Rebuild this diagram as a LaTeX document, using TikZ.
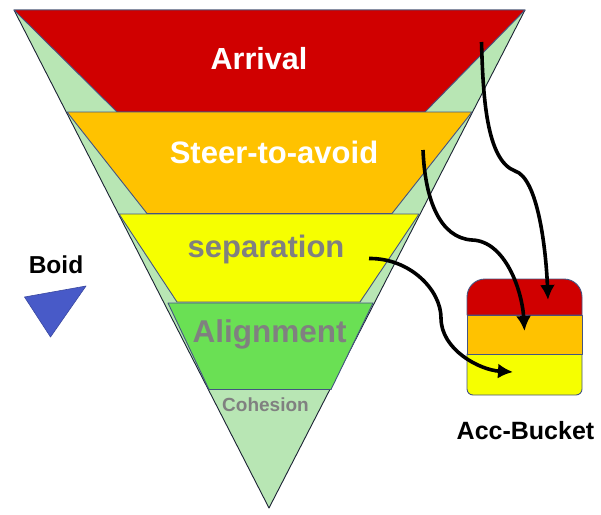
\documentclass[tikz,border=0pt]{standalone}
\usepackage{fontspec}
\setmainfont{Liberation Sans}
\usepackage{tikz}
\usetikzlibrary{arrows.meta,calc,positioning}

\definecolor{framecol}{RGB}{68,84,130}
\definecolor{paleg}{RGB}{184,230,180}
\definecolor{redl}{RGB}{208,0,0}
\definecolor{orangel}{RGB}{255,194,0}
\definecolor{yellowl}{RGB}{246,255,0}
\definecolor{greenl}{RGB}{106,224,84}
\definecolor{graytxt}{RGB}{128,128,128}
\definecolor{boidcol}{RGB}{72,90,200}

\tikzset{
    layer/.style={draw=framecol,line width=0.9pt,line join=round},
    lbl/.style={font=\bfseries\fontsize{#1}{#1}\selectfont,inner sep=0pt},
    flow/.style={-{Latex[length=15pt,width=15pt]},line width=3.6pt,black},
}

\begin{document}
\begin{tikzpicture}[x=1pt,y=-1pt]
    \useasboundingbox (0,0) rectangle (601,514);
    % funnel
    \draw[fill=paleg,draw=black!60!framecol,line width=0.9pt,line join=round]
        (14,10) -- (525,10) -- (269,508) -- cycle;
    \draw[layer,fill=redl] (14,10) -- (525,10) -- (425,112) -- (117,112) -- cycle;
    \draw[layer,fill=orangel] (67,112) -- (472,112) -- (392,213.5) -- (147,213.5) -- cycle;
    \draw[layer,fill=yellowl] (119,214) -- (419,214) -- (360,302) -- (177,302) -- cycle;
    \draw[layer,fill=greenl] (168,303) -- (373,303) -- (331,389.5) -- (209,389.5) -- cycle;
    % labels
    \node[lbl=30.5,text=white] (arrival) at (259,59) {Arrival};
    \node[lbl=31,text=white] (steer) at (274,152) {Steer-to-avoid};
    \node[lbl=31,text=graytxt] (separation) at (266,249.5) {separation};
    \node[lbl=31.5,text=graytxt] (alignment) at (269.5,334.5) {Alignment};
    \node[lbl=19,text=graytxt] (cohesion) at (265.5,404.5) {Cohesion};
    % boid
    \draw[fill=boidcol,draw=boidcol!80!black,line width=0.6pt,line join=round]
        (24.5,297) -- (86,286) -- (50.5,337) -- cycle;
    \node[lbl=24.5] (boid) at (56,265) {Boid};
    % bucket
    \draw[layer,fill=yellowl] (467,354) -- (582,354) -- (582,389)
        arc[start angle=0,end angle=90,radius=6] -- (473,395)
        arc[start angle=90,end angle=180,radius=6] -- cycle;
    \draw[layer,fill=orangel] (467,315) rectangle (582,354);
    \draw[layer,fill=redl] (467,315) -- (467,297)
        arc[start angle=180,end angle=270,radius=18] -- (564,279)
        arc[start angle=270,end angle=360,radius=18] -- (582,315) -- cycle;
    \node[lbl=25] (bucket) at (525.5,431) {Acc-Bucket};
    % arrows
    \coordinate (arrFrom) at (481.5,42);
    \coordinate (arrMid) at (515,171);
    \coordinate (arrTo) at (548,300);
    \coordinate (steerFrom) at (423,150);
    \coordinate (steerMid) at (472,240);
    \coordinate (steerTo) at (524.5,331);
    \coordinate (sepFrom) at (369,258.5);
    \coordinate (sepMid) at (441,318);
    \coordinate (sepTo) at (513,372);
    \draw[flow] (arrFrom) .. controls (483,95) and (486,160) .. (arrMid)
        .. controls (538,178) and (546,250) .. (arrTo);
    \draw[flow] (steerFrom) .. controls (425,200) and (440,238) .. (steerMid)
        .. controls (505,241) and (522,290) .. (steerTo);
    \draw[flow] (sepFrom) .. controls (410,258) and (441,290) .. (sepMid)
        .. controls (441,350) and (480,370) .. (sepTo);
\end{tikzpicture}
\end{document}
